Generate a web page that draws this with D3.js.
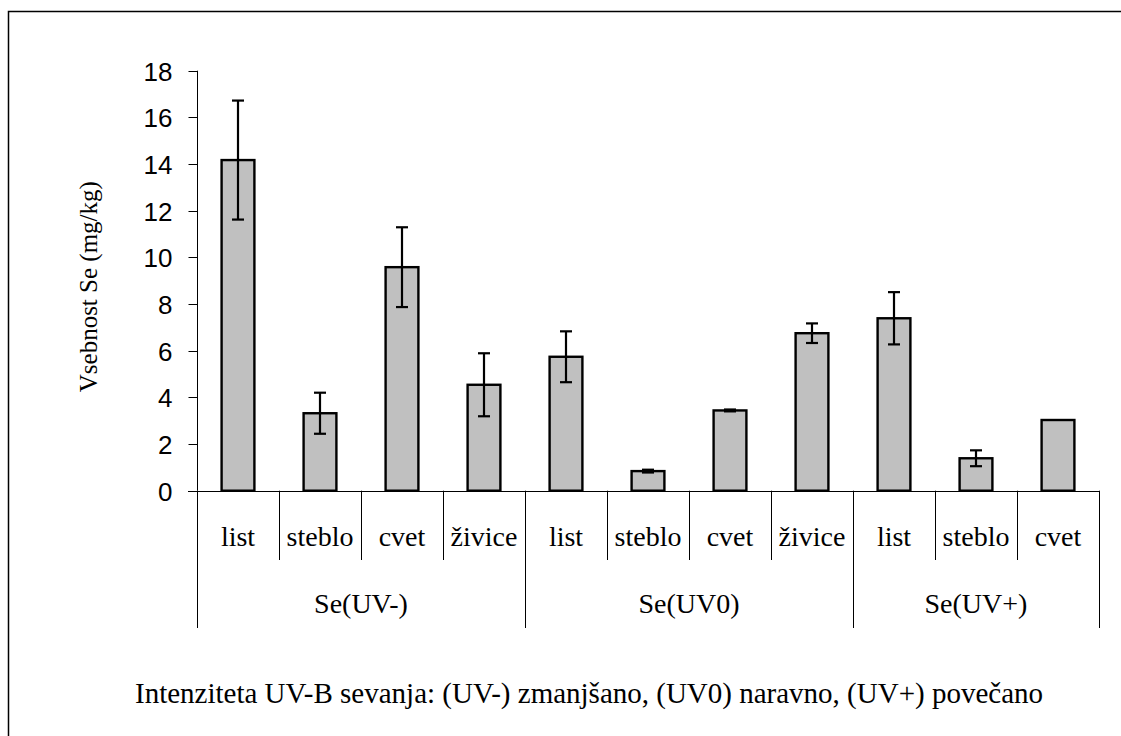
<!DOCTYPE html>
<html>
<head>
<meta charset="utf-8">
<script src="https://cdn.jsdelivr.net/npm/d3@7"></script>
<style>
  html, body { margin: 0; padding: 0; background: #fff; }
  svg { display: block; }
  .serif { font-family: "Liberation Serif", "Times New Roman", Times, "DejaVu Serif", serif; }
  .sans { font-family: "Liberation Sans", Arial, sans-serif; }
</style>
</head>
<body>
<svg id="chart" width="1121" height="736"></svg>
<script>
// ---- data ----
const groups = ["Se(UV-)", "Se(UV0)", "Se(UV+)"];
const parts = [
  ["list", "steblo", "cvet", "živice"],
  ["list", "steblo", "cvet", "živice"],
  ["list", "steblo", "cvet"]
];
const means = [
  [14.17, 3.32, 9.58, 4.54],
  [5.74, 0.84, 3.44, 6.75],
  [7.39, 1.39, 3.03]
];
const errors = [
  [2.55, 0.88, 1.71, 1.35],
  [1.09, 0.06, 0.04, 0.42],
  [1.12, 0.34, 0]
];
const yTicks = [0, 2, 4, 6, 8, 10, 12, 14, 16, 18];
const yTitle = "Vsebnost Se (mg/kg)";
const caption = "Intenziteta UV-B sevanja: (UV-) zmanjšano, (UV0) naravno, (UV+) povečano";

(function () {
const rows = [];
groups.forEach((g, gi) => parts[gi].forEach((p, pi) => {
  rows.push({ key: gi + "-" + pi, group: gi, part: p, value: means[gi][pi], err: errors[gi][pi] });
}));

const svg = d3.select("#chart");
const pL = 197, pR = 1099, pT = 70.7, pB = 490.7;

// outer frame
svg.append("rect").attr("x", 8.5).attr("y", 11.5).attr("width", 1200).attr("height", 800)
  .attr("fill", "none").attr("stroke", "#000").attr("stroke-width", 1.5);

const x = d3.scaleBand().domain(rows.map(d => d.key)).range([pL, pR]).paddingInner(0.6).paddingOuter(0.3);
const xb = d3.scaleBand().domain(rows.map(d => d.key)).range([pL, pR]).padding(0);
const y = d3.scaleLinear().domain([0, 18]).range([pB, pT]);

// y axis
const yAxis = d3.axisLeft(y).tickValues(yTicks).tickSize(9).tickSizeOuter(0).tickPadding(16);
const ya = svg.append("g").attr("transform", `translate(${pL + 0.5},0)`).call(yAxis);
ya.attr("font-family", null).attr("font-size", null);
ya.select(".domain").attr("stroke", "#000").attr("d", `M0,${pT}V${pB}`);
ya.selectAll(".tick line").attr("stroke", "#000");
ya.selectAll(".tick text").attr("class", "sans").style("font-size", "26px").attr("fill", "#000").attr("dy", "0.35em");
ya.selectAll(".tick").attr("transform", d => `translate(0,${Math.round(y(d)) + 0.5})`);

// y title
svg.append("text").attr("class", "serif").attr("transform", `translate(97,${(pT + pB) / 2 + 6}) rotate(-90)`)
  .attr("text-anchor", "middle").style("font-size", "25px").attr("fill", "#000").text(yTitle);

// bars
svg.append("g").selectAll("rect").data(rows).join("rect")
  .attr("x", d => x(d.key)).attr("width", x.bandwidth())
  .attr("y", d => y(d.value)).attr("height", d => y(0) - y(d.value))
  .attr("fill", "#c0c0c0").attr("stroke", "#000").attr("stroke-width", 2.4);

// error bars
const eg = svg.append("g").attr("stroke", "#000").attr("stroke-width", 2.2);
rows.filter(d => d.err > 0).forEach(d => {
  const cx = x(d.key) + x.bandwidth() / 2;
  eg.append("line").attr("x1", cx).attr("x2", cx).attr("y1", y(d.value + d.err)).attr("y2", y(d.value - d.err));
  [d.value + d.err, d.value - d.err].forEach(v => {
    eg.append("line").attr("x1", cx - 6).attr("x2", cx + 6).attr("y1", y(v)).attr("y2", y(v));
  });
});

// x axis line
svg.append("line").attr("x1", pL - 9).attr("x2", pR).attr("y1", Math.round(pB) + 0.5).attr("y2", Math.round(pB) + 0.5)
  .attr("stroke", "#000").attr("stroke-width", 1);

// separators
const sep = svg.append("g").attr("stroke", "#000").attr("stroke-width", 1);
let idx = 0;
const groupBounds = [];
groups.forEach((g, gi) => {
  const start = xb(rows[idx].key);
  parts[gi].forEach((p, pi) => {
    const bx = xb(rows[idx].key);
    if (pi > 0) sep.append("line").attr("x1", Math.round(bx) + 0.5).attr("x2", Math.round(bx) + 0.5).attr("y1", pB).attr("y2", 560);
    idx++;
  });
  const end = idx < rows.length ? xb(rows[idx].key) : pR;
  groupBounds.push([start, end]);
});
const gEdges = [groupBounds[0][0]].concat(groupBounds.map(b => b[1]));
gEdges.forEach(e => sep.append("line").attr("x1", Math.round(e) + 0.5).attr("x2", Math.round(e) + 0.5).attr("y1", pB).attr("y2", 628));

// category labels
svg.append("g").selectAll("text").data(rows).join("text").attr("class", "serif")
  .attr("x", d => xb(d.key) + xb.bandwidth() / 2).attr("y", 546)
  .attr("text-anchor", "middle").style("font-size", "28px").attr("fill", "#000").text(d => d.part);

// group labels
svg.append("g").selectAll("text").data(groupBounds).join("text").attr("class", "serif")
  .attr("x", d => (d[0] + d[1]) / 2).attr("y", 613)
  .attr("text-anchor", "middle").style("font-size", "28px").attr("fill", "#000").text((d, i) => groups[i]);

// caption
svg.append("text").attr("class", "serif").attr("x", 135).attr("y", 703)
  .style("font-size", "30px").attr("fill", "#000")
  .attr("textLength", 908).attr("lengthAdjust", "spacingAndGlyphs").text(caption);
})();
</script>
</body>
</html>
